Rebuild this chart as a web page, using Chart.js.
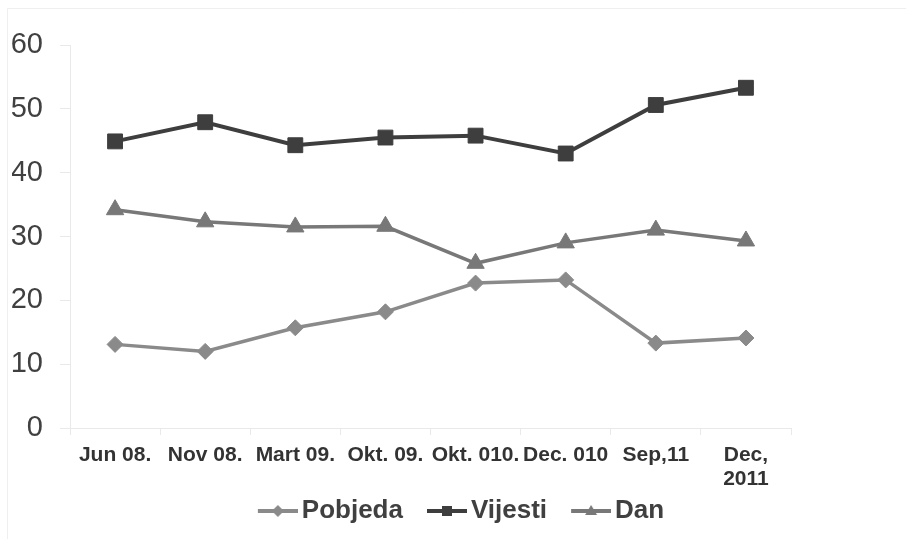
<!DOCTYPE html>
<html>
<head>
<meta charset="utf-8">
<script src="https://cdn.jsdelivr.net/npm/chart.js@4.4.1/dist/chart.umd.min.js"></script>
<style>
  html, body { margin: 0; padding: 0; background: #ffffff; }
  #wrap { position: relative; width: 906px; height: 539px; }
</style>
</head>
<body>
<div id="wrap"><canvas id="c" width="906" height="539"></canvas></div>
<script>
const categories = ['Jun 08.', 'Nov 08.', 'Mart 09.', 'Okt. 09.', 'Okt. 010.', 'Dec. 010', 'Sep,11', ['Dec,', '2011']];
const pobjeda = [13.1, 12.0, 15.7, 18.2, 22.7, 23.2, 13.3, 14.1];
const vijesti = [44.9, 47.9, 44.3, 45.5, 45.8, 43.0, 50.6, 53.3];
const dan = [34.2, 32.3, 31.5, 31.6, 25.8, 29.0, 31.0, 29.3];
const yTicks = [0, 10, 20, 30, 40, 50, 60];

const FONT = "'Liberation Sans', Arial, Helvetica, sans-serif";
const C_POB = '#8a8a8a';
const C_VIJ = '#3e3e3e';
const C_DAN = '#787878';

function legendIcon(color, style) {
  const cv = document.createElement('canvas');
  cv.width = 66; cv.height = 20;
  const g = cv.getContext('2d');
  g.strokeStyle = color; g.fillStyle = color; g.lineWidth = 4;
  g.beginPath(); g.moveTo(26, 10); g.lineTo(66, 10); g.stroke();
  const cx = 46, cy = 10;
  g.beginPath();
  if (style === 'rect') {
    g.rect(cx - 5, cy - 5, 10, 10);
  } else if (style === 'rectRot') {
    g.moveTo(cx, cy - 6); g.lineTo(cx + 6, cy); g.lineTo(cx, cy + 6); g.lineTo(cx - 6, cy); g.closePath();
  } else {
    g.moveTo(cx, cy - 6); g.lineTo(cx + 6, cy + 4); g.lineTo(cx - 6, cy + 4); g.closePath();
  }
  g.fill();
  return cv;
}

const framePlugin = {
  id: 'frame',
  beforeDraw(chart) {
    const ctx = chart.ctx;
    ctx.save();
    ctx.strokeStyle = '#efefef';
    ctx.lineWidth = 1;
    ctx.beginPath();
    ctx.moveTo(7.5, 539); ctx.lineTo(7.5, 8.5); ctx.lineTo(906, 8.5);
    ctx.stroke();
    ctx.restore();
  }
};

const legendShift = {
  id: 'legendShift',
  afterLayout(chart) {
    if (chart.legend) { chart.legend.left += 51; chart.legend.right += 51; }
  }
};

const mk = (label, data, color, style, radius, width) => ({
  label, data,
  borderColor: color, backgroundColor: color,
  borderWidth: width,
  pointStyle: style, pointRadius: radius, pointHoverRadius: radius,
  pointBackgroundColor: color, pointBorderColor: color, pointBorderWidth: 1,
  tension: 0, fill: false
});

new Chart(document.getElementById('c'), {
  type: 'line',
  data: {
    labels: categories,
    datasets: [
      mk('Pobjeda', pobjeda, C_POB, 'rectRot', 8, 3.5),
      mk('Vijesti', vijesti, C_VIJ, 'rect', 10.5, 4),
      mk('Dan', dan, C_DAN, 'triangle', 10, 3.5)
    ]
  },
  options: {
    responsive: false,
    animation: false,
    events: [],
    layout: { padding: { left: 12, right: 115, top: 45, bottom: 5 } },
    scales: {
      x: {
        offset: true,
        afterFit(scale) { scale.height = 63; },
        grid: { offset: true, drawOnChartArea: false, tickLength: 7, color: '#e9e9e9', lineWidth: 1 },
        border: { color: '#e9e9e9', width: 1 },
        ticks: { color: '#333333', padding: 8, maxRotation: 0, autoSkip: false,
                 font: { family: FONT, size: 21, weight: 'bold', lineHeight: 1.143 } }
      },
      y: {
        min: 0, max: 60,
        afterFit(scale) { scale.width = 58; },
        afterBuildTicks(scale) { scale.ticks = yTicks.map(v => ({ value: v })); },
        grid: { drawOnChartArea: false, tickLength: 10, color: '#e9e9e9', lineWidth: 1 },
        border: { color: '#e9e9e9', width: 1 },
        ticks: { color: '#404040', padding: 17, font: { family: FONT, size: 29 } }
      }
    },
    plugins: {
      tooltip: { enabled: false },
      legend: {
        position: 'bottom',
        labels: {
          usePointStyle: true,
          pointStyleWidth: 48,
          padding: 7,
          color: '#404040',
          font: { family: FONT, size: 26, weight: 'bold' },
          generateLabels(chart) {
            return chart.data.datasets.map((ds, i) => ({
              text: ds.label,
              pointStyle: legendIcon(ds.borderColor, ds.pointStyle),
              fillStyle: ds.borderColor, strokeStyle: ds.borderColor,
              fontColor: '#404040', lineWidth: 0, hidden: false, datasetIndex: i
            }));
          }
        }
      }
    }
  },
  plugins: [framePlugin, legendShift]
});
</script>
</body>
</html>
